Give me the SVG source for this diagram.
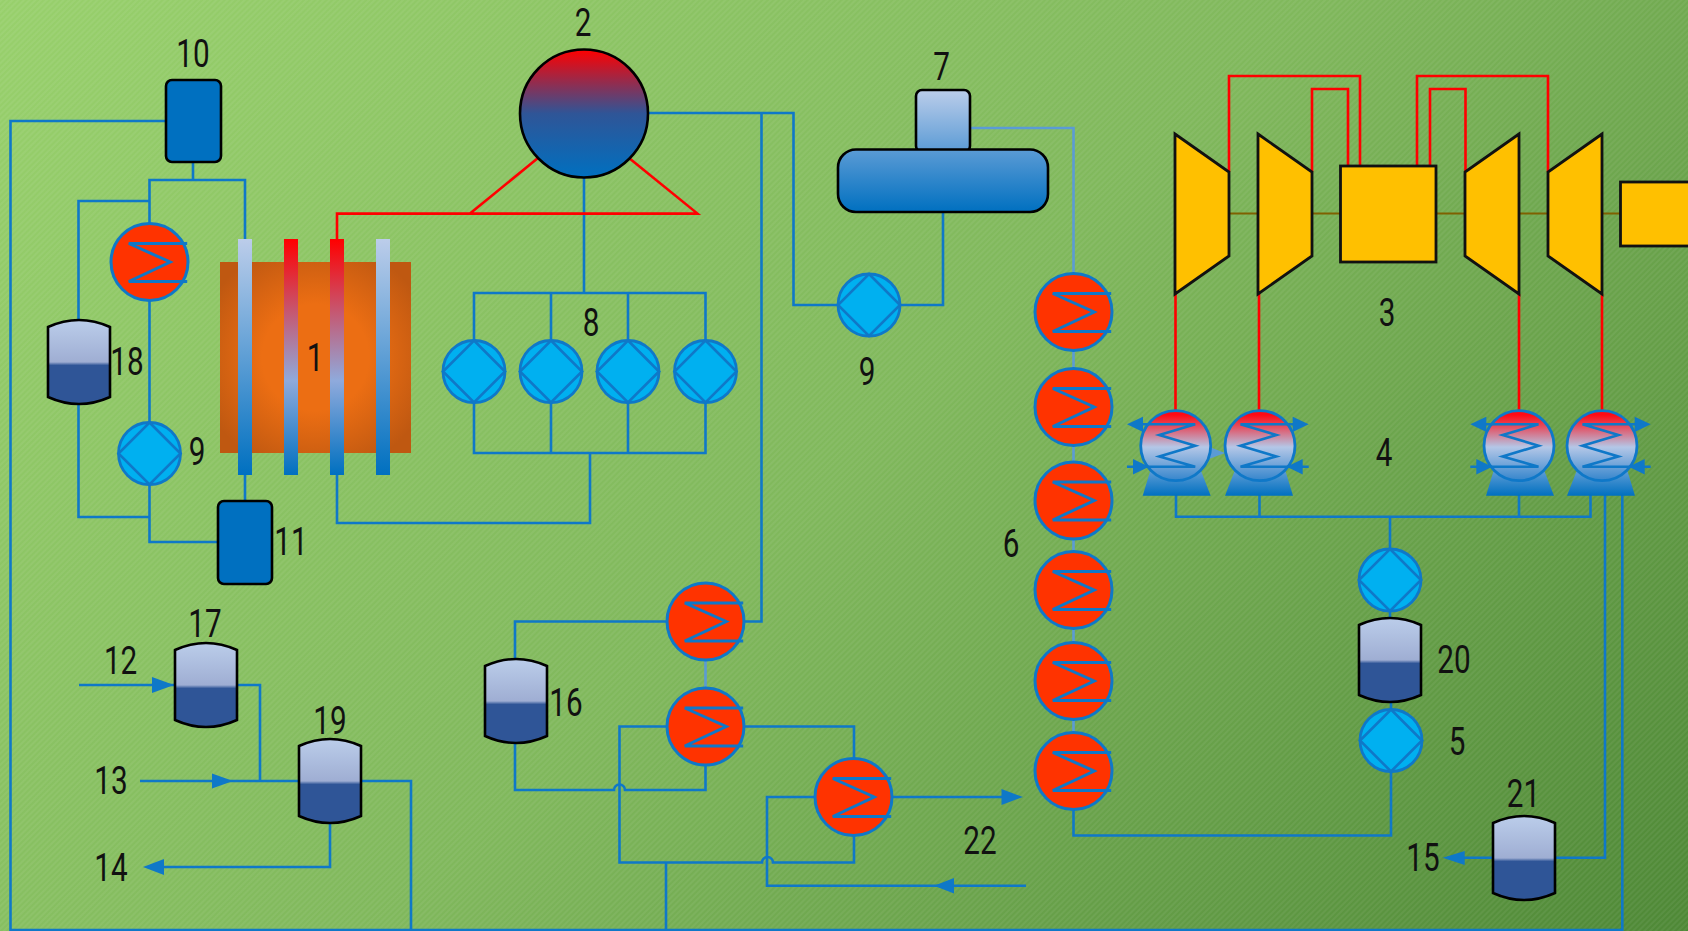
<svg xmlns="http://www.w3.org/2000/svg" width="1688" height="931" viewBox="0 0 1688 931">
<style>
.c{fill:none;stroke:#0F78C8;stroke-width:2.6}
.lc{fill:none;stroke:#5B9BD5;stroke-width:2.6}
.r{fill:none;stroke:#FF0000;stroke-width:2.6}
.a{fill:#0F78C8;stroke:none}
.blk{stroke:#000;stroke-width:2.6}
.tb{fill:#FFC000;stroke:#111;stroke-width:2.8;stroke-linejoin:miter}
.t{font-family:Roboto,"Liberation Sans",sans-serif;font-weight:400;font-size:38px;fill:#111;text-anchor:middle}
</style>
<defs>
<linearGradient id="bg" gradientUnits="userSpaceOnUse" x1="0" y1="0" x2="1310" y2="1310"><stop offset="0" stop-color="#98D06C"/><stop offset=".5" stop-color="#80B85C"/><stop offset="1" stop-color="#4E8836"/></linearGradient>
<pattern id="hatch" width="4" height="4" patternUnits="userSpaceOnUse" patternTransform="rotate(-45)"><rect width="4" height="2" fill="#fff" opacity=".06"/></pattern>
<radialGradient id="core" cx=".5" cy=".5" r=".62"><stop offset=".45" stop-color="#EC6E13"/><stop offset="1" stop-color="#BF5811"/></radialGradient>
<linearGradient id="rodC" x1="0" y1="0" x2="0" y2="1"><stop offset="0" stop-color="#BCCDEA"/><stop offset="1" stop-color="#0070C0"/></linearGradient>
<linearGradient id="rodH" x1="0" y1="0" x2="0" y2="1"><stop offset="0" stop-color="#FF0000"/><stop offset=".6" stop-color="#8FAADC"/><stop offset="1" stop-color="#0070C0"/></linearGradient>
<linearGradient id="drum" x1="0" y1="0" x2="0" y2="1"><stop offset="0" stop-color="#FF0000"/><stop offset=".5" stop-color="#2F5597"/><stop offset="1" stop-color="#0070C0"/></linearGradient>
<linearGradient id="tankG" x1="0" y1="0" x2="0" y2="1"><stop offset="0" stop-color="#BBCDEA"/><stop offset=".5" stop-color="#9FAED3"/><stop offset=".54" stop-color="#2F5597"/><stop offset="1" stop-color="#2F5597"/></linearGradient>
<linearGradient id="deaG" x1="0" y1="0" x2="0" y2="1"><stop offset="0" stop-color="#5B9BD5"/><stop offset="1" stop-color="#0070C0"/></linearGradient>
<linearGradient id="domeG" x1="0" y1="0" x2="0" y2="1"><stop offset="0" stop-color="#BBCDEA"/><stop offset="1" stop-color="#5B9BD5"/></linearGradient>
<linearGradient id="condG" x1="0" y1="0" x2="0" y2="1"><stop offset=".06" stop-color="#FF0A14"/><stop offset=".52" stop-color="#B4C7E7"/><stop offset="1" stop-color="#3485CC"/></linearGradient>
<g id="hx"><circle r="38.5" fill="#FF3300" stroke="#0F78C8" stroke-width="3"/><path d="M37.7,-18.5H-20.7L20.7,0L-20.7,19.5H37.7" fill="none" stroke="#0F78C8" stroke-width="3"/></g>
<g id="pump"><circle r="31" fill="#00B0F0" stroke="#0F78C8" stroke-width="2.8"/><path d="M0,-31L31,0L0,31L-31,0Z" fill="none" stroke="#0F78C8" stroke-width="2.6"/></g>
<path id="tank" d="M0,7Q31,-7 62,7V77Q31,91 0,77Z" fill="url(#tankG)" stroke="#000" stroke-width="2.6"/>
<g id="cond">
<path d="M-33,50L-25.7,26H25.7L35,50Z" fill="url(#deaG)"/>
<circle r="35" fill="url(#condG)" stroke="#0F78C8" stroke-width="2.8"/>
<path d="M-33,-21.4H19.5L-16.4,-10.7L19.5,0L-16.4,10.7L19.5,21H-48.7" fill="none" stroke="#0F78C8" stroke-width="2.6"/>
<path d="M-48.7,-21.4L-32.7,-29V-13.8Z" fill="#0F78C8"/>
<path d="M-26.700,21L-42.7,13.2V28.8Z" fill="#0F78C8"/>
</g>
</defs>
<rect width="1688" height="931" fill="url(#bg)"/>
<rect width="1688" height="931" fill="url(#hatch)"/>
<g id="connectors">
<path class="c" d="M166,121H10.5V930H1622.3V495"/>
<path class="c" d="M193,162V180M149.5,223V180H245V239M245,475V501"/>
<path class="c" d="M149.5,201H78.5V320M78.5,403V517H149.5M149.5,300V422M149.5,485V542H218"/>
<path class="c" d="M584,178V293M474,340V293H705.5V340M551,293V340M628,293V340M474,403V453H705.5V403M551,403V453M628,403V453M590,453V523H337V475"/>
<path class="c" d="M648,113H793.5V305H838M900,305H943V212M761.5,113V621.5H744"/>
<path class="lc" d="M970,128H1073.5V733M705.5,660V688"/>
<path class="c" d="M1073.5,810V835.5H1391V772"/>
<path class="c" d="M667,621.5H515V659M515,743V790H614a5.5,5.5 0 0 1 11,0H705.5V765"/>
<path class="c" d="M667,726.5H619.5V862.5H762a5.5,5.5 0 0 1 11,0H854V836"/>
<path class="c" d="M744,726.5H854V758"/>
<path class="c" d="M815,797H767V885.7H1026"/>
<path class="c" d="M892.5,797H1002"/>
<path class="a" d="M1023,797L1001.5,789V805Z"/>
<path class="a" d="M934,885.7L954,878V893.5Z"/>
<path class="c" d="M666,862.5V930"/>
<path class="c" d="M79,685H175"/><path class="a" d="M174,685L152,677V693Z"/>
<path class="c" d="M237,685H260V781"/>
<path class="c" d="M140,781H299"/><path class="a" d="M233,781L212,773.5V788.5Z"/>
<path class="c" d="M361,781H411V930"/>
<path class="c" d="M330,823V867H150"/><path class="a" d="M143,867L164,859V875Z"/>
<path class="r" d="M337,239V213.6H697.5L629,158M470,213.6L538,158"/>
<path class="r" d="M1229,172V76H1360V166M1312,172V89H1348V166M1417,166V76H1548V172M1430,166V89H1465.5V172"/>
<path class="r" d="M1175.5,294V411M1259,294V411M1519,294V411M1602,294V411"/>
<path d="M1229,213.5H1625" fill="none" stroke="#7F6000" stroke-width="2"/>
<path class="c" d="M1176,495V516.7H1590.5V495M1259.5,495V516.7M1519,495V516.7M1390,516.7V549M1390,611V619M1391,702V710"/>
<path class="c" d="M1605,495V857.7H1555M1493,857.7H1460"/>
<path class="a" d="M1442.7,857.7L1464.7,851V865Z"/>
<path d="M1209,446.7L1225,453L1209,459Z" fill="#5B9BD5"/>
</g>
<g id="node-1">
<rect x="220" y="262" width="191" height="191" fill="url(#core)"/>
<rect x="238" y="239" width="14" height="236" fill="url(#rodC)"/>
<rect x="284" y="239" width="14" height="236" fill="url(#rodH)"/>
<rect x="330" y="239" width="14" height="236" fill="url(#rodH)"/>
<rect x="376" y="239" width="14" height="236" fill="url(#rodC)"/>
<text class="t" transform="translate(315,371) scale(.78,1)">1</text>
</g>
<g id="node-2"><circle cx="584" cy="113.5" r="64" fill="url(#drum)" class="blk"/><text class="t" transform="translate(583,36) scale(.78,1)">2</text></g>
<g id="node-3">
<path class="tb" d="M1175,134L1229,172V256L1175,294Z"/>
<path class="tb" d="M1258,134L1312,172V256L1258,294Z"/>
<rect class="tb" x="1340.5" y="166" width="95.500" height="96"/>
<path class="tb" d="M1519,134L1465,172V256L1519,294Z"/>
<path class="tb" d="M1602,134L1548,172V256L1602,294Z"/>
<rect class="tb" x="1620.5" y="182" width="80" height="64"/>
<text class="t" transform="translate(1387,326) scale(.78,1)">3</text>
</g>
<g id="node-4">
<use href="#cond" x="1175.700" y="445.700"/>
<use href="#cond" transform="translate(1260,445.700) scale(-1,1)"/>
<use href="#cond" x="1519" y="445.700"/>
<use href="#cond" transform="translate(1602,445.700) scale(-1,1)"/>
<text class="t" transform="translate(1384,466) scale(.78,1)">4</text>
</g>
<g id="node-5"><use href="#pump" x="1391" y="740.500"/><text class="t" transform="translate(1457,755) scale(.78,1)">5</text></g>
<g id="pump-20"><use href="#pump" x="1390" y="580"/></g>
<g id="node-6">
<use href="#hx" x="1073.500" y="312"/><use href="#hx" x="1073.500" y="407"/><use href="#hx" x="1073.500" y="500.500"/><use href="#hx" x="1073.500" y="590"/><use href="#hx" x="1073.500" y="681"/><use href="#hx" x="1073.500" y="771"/>
<text class="t" transform="translate(1011,557) scale(.78,1)">6</text>
</g>
<g id="node-7">
<rect x="916" y="90" width="54" height="62" rx="6" fill="url(#domeG)" class="blk"/>
<rect x="838" y="149.500" width="210" height="62.500" rx="18" fill="url(#deaG)" class="blk"/>
<text class="t" transform="translate(941.500,80) scale(.78,1)">7</text>
</g>
<g id="node-8">
<use href="#pump" x="474" y="371.500"/><use href="#pump" x="551" y="371.500"/><use href="#pump" x="628" y="371.500"/><use href="#pump" x="705.500" y="371.500"/>
<text class="t" transform="translate(591,336) scale(.78,1)">8</text>
</g>
<g id="node-9a"><use href="#pump" x="149.500" y="453.500"/><text class="t" transform="translate(197,465) scale(.78,1)">9</text></g>
<g id="node-9b"><use href="#pump" x="869" y="305"/><text class="t" transform="translate(867,385) scale(.78,1)">9</text></g>
<g id="node-10"><rect x="166" y="80" width="55" height="82" rx="6" fill="#0070C0" class="blk"/><text class="t" transform="translate(193,67) scale(.78,1)">10</text></g>
<g id="node-11"><rect x="218" y="501" width="54" height="83" rx="6" fill="#0070C0" class="blk"/><text class="t" transform="translate(291,555) scale(.78,1)">11</text></g>
<g id="hx-a"><use href="#hx" x="149.500" y="262"/></g>
<g id="hx-b"><use href="#hx" x="705.500" y="621.500"/></g>
<g id="hx-c"><use href="#hx" x="705.500" y="726.500"/></g>
<g id="hx-d"><use href="#hx" x="853.500" y="797"/></g>
<g id="node-16"><use href="#tank" x="485" y="659"/><text class="t" transform="translate(566,716) scale(.78,1)">16</text></g>
<g id="node-17"><use href="#tank" x="175" y="643"/><text class="t" transform="translate(205,637) scale(.78,1)">17</text></g>
<g id="node-18"><use href="#tank" x="48" y="320"/><text class="t" transform="translate(127,375) scale(.78,1)">18</text></g>
<g id="node-19"><use href="#tank" x="299" y="739"/><text class="t" transform="translate(330,734) scale(.78,1)">19</text></g>
<g id="node-20"><use href="#tank" x="1359" y="618"/><text class="t" transform="translate(1454,673) scale(.78,1)">20</text></g>
<g id="node-21"><use href="#tank" x="1493" y="816"/><text class="t" transform="translate(1523.500,807) scale(.78,1)">21</text></g>
<g id="labels">
<text class="t" transform="translate(120.600,674) scale(.78,1)">12</text>
<text class="t" transform="translate(111,794) scale(.78,1)">13</text>
<text class="t" transform="translate(111,881) scale(.78,1)">14</text>
<text class="t" transform="translate(1423,871) scale(.78,1)">15</text>
<text class="t" transform="translate(980,854) scale(.78,1)">22</text>
</g>
</svg>
